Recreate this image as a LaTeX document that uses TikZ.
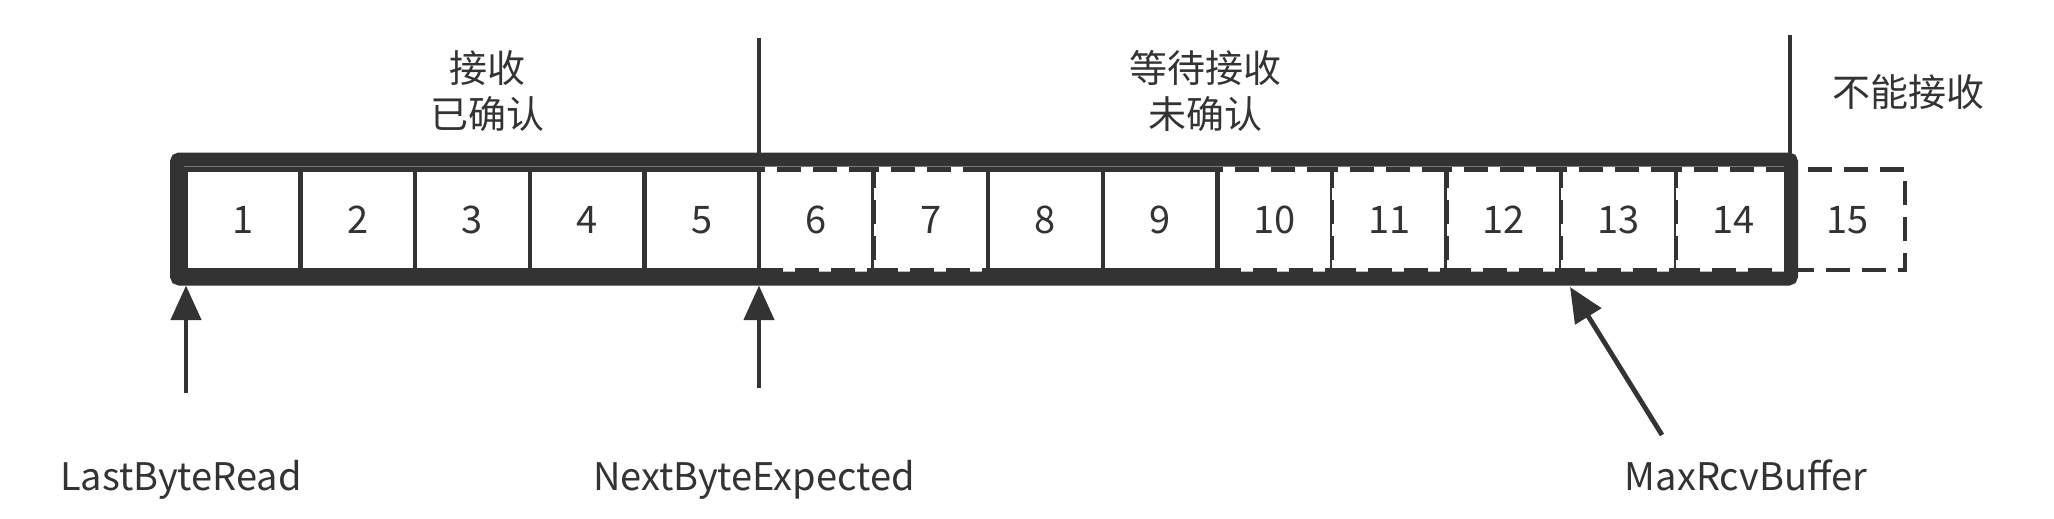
\documentclass[tikz,border=0pt]{standalone}
\usepackage{fontspec}
\setmainfont{Noto Sans CJK SC}
\usetikzlibrary{arrows.meta}
\definecolor{ink}{HTML}{333333}
\begin{document}
\begin{tikzpicture}[x=0.75pt,y=-0.75pt,
  every node/.style={text=ink, font=\fontsize{28.5}{34.5}\selectfont},
  cellsolid/.style={draw=ink, fill=white, line width=3.2pt, minimum width=85.95pt, minimum height=75.4pt, inner sep=0pt},
  celldash/.style={cellsolid, dash pattern=on 18pt off 9pt},
  band/.style={draw=ink, line width=10.5pt, rounded corners=2pt, inner sep=0pt},
  vline/.style={draw=ink, line width=3.6pt},
  arr/.style={draw=ink, line width=3.6pt, -{Triangle[length=26pt,width=22.5pt]}},
  lbl/.style={anchor=base, inner sep=0pt},
  captext/.style={align=center, inner sep=0pt}]
\useasboundingbox (0,0) rectangle (2054,518);
% dashed cells first, solid cells on top
\foreach \i in {6,7,10,11,12,13,14,15}
  \node[celldash] (c\i) at ({243.3+(\i-1)*114.6},219.75) {\i};
\foreach \i in {1,2,3,4,5,8,9}
  \node[cellsolid] (c\i) at ({243.3+(\i-1)*114.6},219.75) {\i};
% thick window frame
\node[band, minimum width=1210.5pt, minimum height=89.25pt] (win) at (984,219) {};
% boundary lines
\coordinate (v1) at (759,38);
\coordinate (v2) at (1790,35);
\draw[vline] (v1) -- (v1 |- win.north);
\draw[vline] (v2) -- (v2 |- win.north);
% captions
\node[captext] (t1) at (487,91) {接收\\已确认};
\node[captext] (t2) at (1205,91) {等待接收\\未确认};
\node[captext] (t3) at (1908,92) {不能接收};
% pointer labels
\node[lbl] (lbr) at (181,490) {LastByteRead};
\node[lbl] (nbe) at (754,490) {NextByteExpected};
\node[lbl] (mrb) at (1746,490) {MaxRcvBuffer};
% pointer arrows
\coordinate (p1) at (186,393);
\coordinate (p2) at (759,388);
\coordinate (p3) at (1662,435);
\coordinate (p3tip) at (1570,287);
\draw[arr] (p1) -- (p1 |- win.south);
\draw[arr] (p2) -- (p2 |- win.south);
\draw[arr] (p3) -- (p3tip);
\end{tikzpicture}
\end{document}
